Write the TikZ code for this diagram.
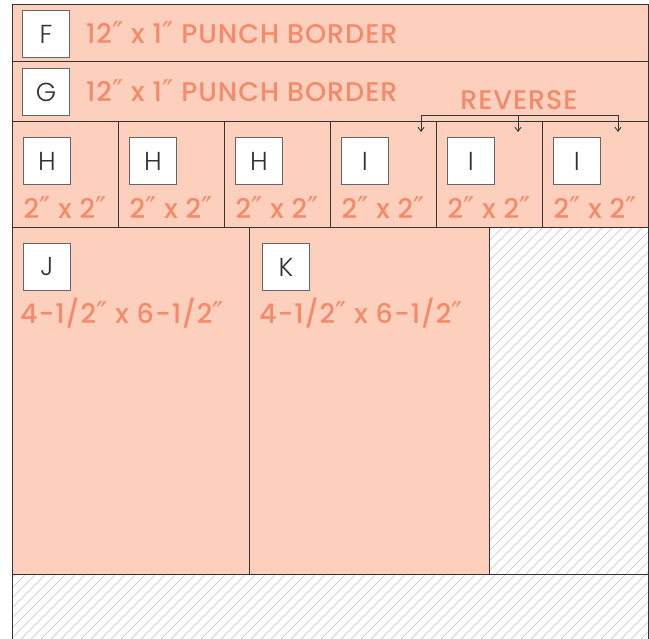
\documentclass[tikz,border=0pt]{standalone}
\usepackage{fontspec}
\newfontfamily\sizefont{Poppins Medium}[LetterSpace=3.5]
\newfontfamily\tagfont{Poppins Light}
\newfontfamily\primefont{DejaVu Sans}
\newcommand\inch{\smash{\primefont\fontsize{30}{30}\selectfont ″}}
\usetikzlibrary{positioning,arrows.meta}
\definecolor{peach}{HTML}{FCD0BC}
\definecolor{salmon}{HTML}{F58A6A}
\definecolor{edge}{HTML}{333333}

\begin{document}
\begin{tikzpicture}[x=1pt,y=-1pt,>={Straight Barb[length=4pt,width=6pt]},
  piece/.style={fill=peach,draw=edge,line width=1pt},
  tag/.style={draw=gray!80!black,fill=white,line width=0.9pt,minimum size=47pt,inner sep=0pt,anchor=north west,
    font=\tagfont\fontsize{26}{26}\selectfont,text=edge},
  size/.style={text=salmon,inner sep=0pt,font=\sizefont\fontsize{27}{27}\selectfont},
  hatch/.style={draw=gray!35,line width=0.8pt}]
  \useasboundingbox (0,0) rectangle (649,639);

  % border strips
  \draw[piece] (12,5) rectangle (648,62);
  \draw[piece] (12,62) rectangle (648,122);
  \node[tag] (tagF) at (22,10) {F};
  \node[tag] (tagG) at (22,68) {G};
  \node[size,right=16pt of tagF] (sizeF) {12\inch{} x 1\inch{} PUNCH BORDER};
  \node[size,right=16pt of tagG] (sizeG) {12\inch{} x 1\inch{} PUNCH BORDER};

  % small squares
  \foreach \i/\t in {0/H,1/H,2/H,3/I,4/I,5/I} {
    \draw[piece] (12+106*\i,122) rectangle (118+106*\i,228);
    \node[tag] (tag\i) at (23+106*\i,137) {\t};
    \node[size] (size\i) at (65+106*\i,208) {2\inch{} x 2\inch};
  }

  % reverse bracket
  \node[size] (rev) at (519,100) {REVERSE};
  \coordinate (brL) at (421,115);
  \coordinate (brM) at (518,115);
  \coordinate (brR) at (618,115);
  \draw[edge,line width=0.9pt] (brL) -- (brR);
  \foreach \c in {brL,brM,brR}
    \draw[edge,line width=0.9pt,->] (\c) -- ++(0,17);

  % large blocks
  \draw[piece] (12,228) rectangle (249,574);
  \draw[piece] (249,228) rectangle (489,574);
  \node[tag] (tagJ) at (23,243) {J};
  \node[tag] (tagK) at (262,243) {K};
  \node[size,anchor=west] (sizeJ) at (20,313) {4-1/2\inch{} x 6-1/2\inch};
  \node[size,anchor=west] (sizeK) at (259,313) {4-1/2\inch{} x 6-1/2\inch};

  % leftover areas
  \begin{scope}
    \clip (489,228) rectangle (648,574) (12,574) rectangle (648,645);
    \foreach \k in {-700,-690,...,700}
      \draw[hatch] (\k,660) -- ++(720,-720);
  \end{scope}
  \draw[edge,line width=1pt] (489,228) rectangle (648,574);
  \draw[edge,line width=1pt] (12,645) -- (12,574) -- (648,574) -- (648,645);
\end{tikzpicture}
\end{document}
